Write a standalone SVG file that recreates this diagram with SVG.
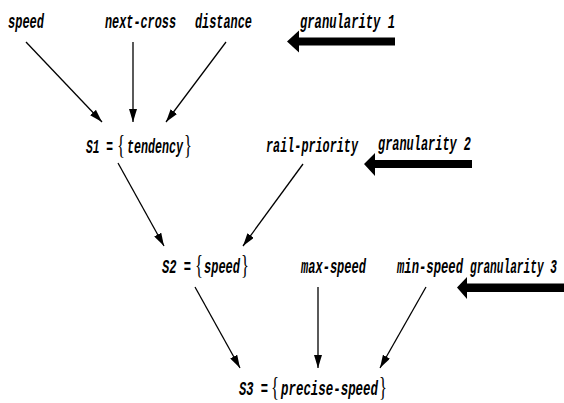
<svg xmlns="http://www.w3.org/2000/svg" width="564" height="403" viewBox="0 0 564 403">
  <style>
    .lbl { font-family: "Liberation Mono", "DejaVu Sans Mono", monospace; font-weight: bold; font-style: italic; font-size: 21px; fill: #000; }
    .brace { font-family: "Liberation Serif", "DejaVu Serif", serif; font-weight: normal; font-style: normal; font-size: 28px; }
    .edge { stroke: #000; stroke-width: 1.3; fill: none; marker-end: url(#head); }
    .big { fill: #000; stroke: none; }
  </style>
  <defs>
    <marker id="head" markerUnits="userSpaceOnUse" markerWidth="13" markerHeight="8" refX="13" refY="4" orient="auto">
      <path d="M0,0 L13,4 L0,8 z" fill="#000"/>
    </marker>
  </defs>

  <rect width="564" height="403" fill="#fff"/>

  <!-- input variables, level 1 -->
  <g id="speed-in"><text class="lbl" x="8" y="28" textLength="36" lengthAdjust="spacingAndGlyphs">speed</text></g>
  <g id="next-cross"><text class="lbl" x="105" y="28" textLength="71" lengthAdjust="spacingAndGlyphs">next-cross</text></g>
  <g id="distance"><text class="lbl" x="195" y="28" textLength="57" lengthAdjust="spacingAndGlyphs">distance</text></g>

  <!-- state S1 -->
  <g id="S1">
    <text class="lbl" y="153"><tspan x="86" textLength="27" lengthAdjust="spacingAndGlyphs">S1 =</tspan><tspan class="brace" x="117" dy="1" textLength="8" lengthAdjust="spacingAndGlyphs">{</tspan><tspan x="127" dy="-1" textLength="56" lengthAdjust="spacingAndGlyphs">tendency</tspan><tspan class="brace" x="184" dy="1" textLength="8" lengthAdjust="spacingAndGlyphs">}</tspan></text>
  </g>
  <g id="rail-priority"><text class="lbl" x="266" y="152" textLength="92" lengthAdjust="spacingAndGlyphs">rail-priority</text></g>

  <!-- state S2 -->
  <g id="S2">
    <text class="lbl" y="273"><tspan x="162" textLength="29" lengthAdjust="spacingAndGlyphs">S2 =</tspan><tspan class="brace" x="195" dy="1" textLength="8" lengthAdjust="spacingAndGlyphs">{</tspan><tspan x="204" dy="-1" textLength="36" lengthAdjust="spacingAndGlyphs">speed</tspan><tspan class="brace" x="241" dy="1" textLength="8" lengthAdjust="spacingAndGlyphs">}</tspan></text>
  </g>
  <g id="max-speed"><text class="lbl" x="301" y="273" textLength="65" lengthAdjust="spacingAndGlyphs">max-speed</text></g>
  <g id="min-speed"><text class="lbl" x="397" y="273" textLength="66" lengthAdjust="spacingAndGlyphs">min-speed</text></g>

  <!-- state S3 -->
  <g id="S3">
    <text class="lbl" y="395"><tspan x="239" textLength="29" lengthAdjust="spacingAndGlyphs">S3 =</tspan><tspan class="brace" x="271" dy="1" textLength="8" lengthAdjust="spacingAndGlyphs">{</tspan><tspan x="281" dy="-1" textLength="97" lengthAdjust="spacingAndGlyphs">precise-speed</tspan><tspan class="brace" x="379" dy="1" textLength="8" lengthAdjust="spacingAndGlyphs">}</tspan></text>
  </g>

  <!-- granularity level markers -->
  <g id="granularity-1">
    <text class="lbl" x="300" y="28" textLength="95" lengthAdjust="spacingAndGlyphs">granularity 1</text>
    <polygon class="big" points="287,41.5 299,30.5 299,37.5 395,37.5 395,45.5 299,45.5 299,52.5"/>
  </g>
  <g id="granularity-2">
    <text class="lbl" x="378" y="150" textLength="93" lengthAdjust="spacingAndGlyphs">granularity 2</text>
    <polygon class="big" points="364,164 375,153 375,160 472,160 472,168 375,168 375,176"/>
  </g>
  <g id="granularity-3">
    <text class="lbl" x="470" y="273" textLength="87" lengthAdjust="spacingAndGlyphs">granularity 3</text>
    <polygon class="big" points="457,287.5 467,277 467,283.5 564,283.5 564,292 467,292 467,299"/>
  </g>

  <!-- dependencies -->
  <g id="connectors">
    <line class="edge" x1="26" y1="42" x2="102" y2="122"/>
    <line class="edge" x1="133" y1="42" x2="133" y2="122"/>
    <line class="edge" x1="226" y1="42" x2="166" y2="122"/>
    <line class="edge" x1="118" y1="163" x2="164" y2="246"/>
    <line class="edge" x1="303" y1="164" x2="243" y2="246"/>
    <line class="edge" x1="195" y1="287" x2="240" y2="368"/>
    <line class="edge" x1="318" y1="287" x2="318" y2="368"/>
    <line class="edge" x1="426" y1="287" x2="380" y2="368"/>
  </g>
</svg>
